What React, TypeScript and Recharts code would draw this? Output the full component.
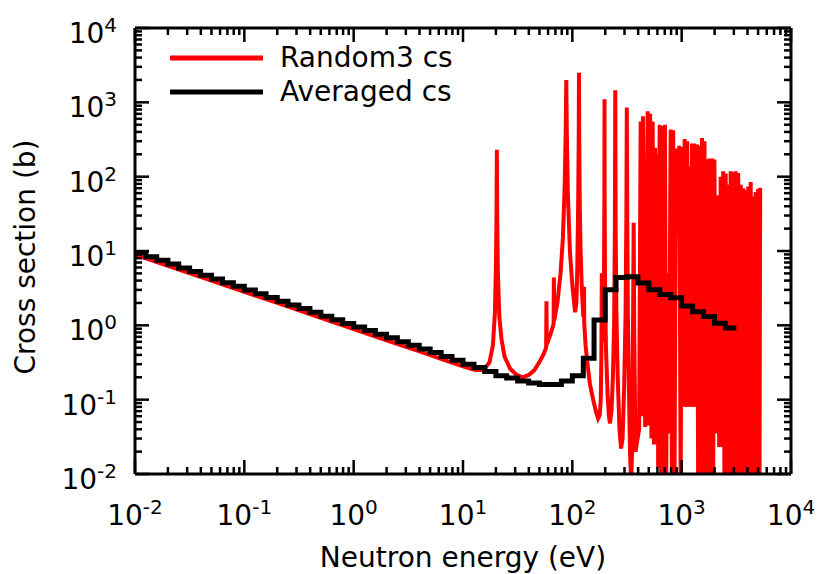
import React from 'react';
import { LineChart, Line, XAxis, YAxis, Legend } from 'recharts';

const FONT = '"DejaVu Sans", Verdana, sans-serif';

// decades shown as 10^n on both axes
const DECADES = [-2, -1, 0, 1, 2, 3, 4];
const MINOR_STEPS = [2, 3, 4, 5, 6, 7, 8, 9];
const SERIES_NAMES = ['Random3 cs', 'Averaged cs'];

// Random3 cs, energy (eV) / cross section (b)
const RANDOM3_SMOOTH: [number, number][] = [
  [0.01, 8.9], [0.02, 6.3], [0.05, 4.0], [0.1, 2.82], [0.2, 2.0], [0.5, 1.26],
  [1, 0.89], [2, 0.63], [4, 0.445], [7, 0.335], [10, 0.28], [13, 0.25], [15.5, 0.25],
];

const RANDOM3_RESOLVED: [number, number][] = [
  [17.5, 0.32], [18.8, 0.55], [19.6, 1.5], [20.0, 6], [20.25, 30], [20.4, 230], [20.55, 30],
  [20.85, 5], [21.5, 1.3], [22.5, 0.65], [24, 0.38], [27, 0.26], [31, 0.215], [35, 0.2],
  [40, 0.215], [45, 0.25], [50, 0.32], [55, 0.42], [57.6, 0.5], [58, 2.1], [58.4, 0.55],
  [63, 0.75], [67.4, 1.05], [67.8, 4.4], [68.2, 1.15], [73, 2.0], [78, 5], [82, 15],
  [85, 70], [87, 400], [88, 2000], [89, 400], [91, 60], [95, 10], [100, 3.5], [106, 1.5],
  [109, 2.0], [111, 6], [113, 40], [114.5, 400], [115, 2500], [115.5, 400], [117, 40],
  [119, 10], [122, 3.2], [126, 1.3], [127.6, 1.6], [128, 3.3], [128.4, 1.1], [132, 0.55],
  [137, 0.32], [145, 0.16], [155, 0.1], [165, 0.068], [172, 0.056], [178, 0.062], [182, 0.1],
  [184.5, 0.4], [186, 5], [187.5, 0.6], [192, 0.9], [195, 5], [196.5, 60], [197, 1100],
  [197.5, 60], [199, 4], [203, 0.5], [210, 0.12], [216, 0.06], [221, 0.048], [228, 0.07],
  [235, 0.2], [241, 1], [245, 20], [247, 1450], [249, 20], [253, 1.5], [260, 0.2],
  [270, 0.04], [279, 0.022], [288, 0.03], [298, 0.15], [307, 1.5], [312, 30], [315, 850],
  [318, 30], [322, 1.5], [328, 0.2], [337, 0.02], [345, 0.008], [352, 0.02], [359, 1],
  [364, 24], [368, 1], [378, 0.02],
];

const RANDOM3_DENSE: [number, number][] = [
  [408, 0.04], [421.6, 550], [433.3, 0.06], [442.5, 650], [463.7, 0.043], [488.8, 760],
  [502.3, 0.045], [515, 700], [529.3, 0.03], [542.9, 550], [557.9, 0.025], [572.2, 245],
  [588.1, 0.026], [599.4, 200], [609.6, 0.012], [629.1, 500], [649.3, 0.008], [665.9, 480],
  [684.4, 0.006], [703.4, 500], [721.4, 0.006], [739.9, 5], [765.3, 0.035], [793.2, 430],
  [815.3, 0.006], [836.1, 420], [859.3, 0.006], [886.9, 240], [919.2, 17], [952.7, 260],
  [979, 0.006], [1006, 250], [1032, 0.08], [1065, 320], [1095, 0.08], [1123, 300],
  [1152, 0.08], [1178, 137], [1209, 0.08], [1242, 280], [1274, 0.08], [1309, 280],
  [1343, 0.08], [1380, 270], [1416, 0.006], [1452, 260], [1492, 0.006], [1534, 330],
  [1573, 0.006], [1617, 300], [1659, 0.006], [1705, 170], [1748, 0.006], [1793, 175],
  [1842, 0.006], [1894, 175], [1942, 0.006], [1991, 170], [2069, 0.035], [2140, 56],
  [2203, 0.023], [2274, 100], [2337, 0.023], [2397, 118], [2463, 0.006], [2527, 110],
  [2597, 0.006], [2663, 78], [2737, 0.006], [2807, 118], [2885, 0.006], [2959, 115],
  [3042, 0.006], [3120, 118], [3206, 0.006], [3288, 112], [3379, 0.006], [3466, 78],
  [3563, 0.006], [3653, 70], [3755, 0.006], [3851, 66], [3958, 0.006], [4060, 74],
  [4172, 0.006], [4279, 85], [4398, 0.006], [4510, 54], [4635, 0.006], [4754, 62],
  [4887, 0.006], [5010, 68], [5150, 0.006], [5224, 71],
];

// Averaged cs: group edges (eV) and group value (b), last value repeated to close the step
const AVG_EDGES = [
  0.01, 0.0126, 0.0158, 0.02, 0.0251, 0.0316, 0.0398, 0.0501, 0.0631, 0.0794,
  0.1, 0.126, 0.158, 0.2, 0.251, 0.316, 0.398, 0.501, 0.631, 0.794,
  1, 1.26, 1.58, 2, 2.51, 3.16, 3.98, 5.01, 6.31, 7.94,
  10, 12.6, 15.8, 20, 25.1, 31.6, 39.8, 50.1, 63.1, 79.4,
  100, 126, 158, 200, 251, 316, 398, 501, 631, 794,
  1000, 1259, 1585, 1995, 2512, 3162,
];
const AVG_CS = [
  9.4, 8.4, 7.5, 6.7, 5.9, 5.3, 4.7, 4.2, 3.75, 3.35,
  2.98, 2.66, 2.37, 2.11, 1.88, 1.68, 1.5, 1.33, 1.19, 1.06,
  0.95, 0.85, 0.76, 0.68, 0.6, 0.54, 0.48, 0.43, 0.38, 0.34,
  0.3, 0.27, 0.24, 0.21, 0.195, 0.178, 0.167, 0.16, 0.16, 0.178,
  0.21, 0.36, 1.18, 3.0, 4.4, 4.5, 3.7, 3.0, 2.6, 2.35,
  1.82, 1.52, 1.31, 1.07, 0.92, 0.92,
];

const randomData = [...RANDOM3_SMOOTH, ...RANDOM3_RESOLVED, ...RANDOM3_DENSE].map(([e, cs]) => ({ e, cs }));
const avgData = AVG_EDGES.map((e, i) => ({ e, cs: AVG_CS[i] }));

const MAJOR_TICKS = DECADES.map((d) => Math.pow(10, d));
const LOG_TICKS = [
  ...MAJOR_TICKS,
  ...DECADES.slice(0, -1).flatMap((d) => MINOR_STEPS.map((m) => m * Math.pow(10, d))),
].sort((a, b) => a - b);
const DOMAIN: [number, number] = [0.01, 10000];

type Side = 'bottom' | 'top' | 'left' | 'right';

const LogTick = (props: any & { side: Side }) => {
  const { x = 0, y = 0, payload, side } = props;
  const v = payload ? payload.value : 1;
  const l = Math.log10(v);
  const major = Math.abs(l - Math.round(l)) < 1e-6;
  const len = major ? 14 : 7;
  const ln = { stroke: '#000', strokeWidth: 2.5 };
  const exp = Math.round(l);
  if (side === 'bottom') {
    return (
      <g>
        <line x1={x} x2={x} y1={y} y2={y - len} {...ln} />
        {major && (
          <text x={x} y={y + 51} textAnchor="middle" fontSize={28} fontFamily={FONT} fill="#000">
            10<tspan dy={-11} fontSize={20}>{exp}</tspan>
          </text>
        )}
      </g>
    );
  }
  if (side === 'top') return <line x1={x} x2={x} y1={y} y2={y + len} {...ln} />;
  if (side === 'right') return <line x1={x} x2={x - len} y1={y} y2={y} {...ln} />;
  return (
    <g>
      <line x1={x} x2={x + len} y1={y} y2={y} {...ln} />
      {major && (
        <text x={x - 18} y={y + 15} textAnchor="end" fontSize={28} fontFamily={FONT} fill="#000">
          10<tspan dy={-11} fontSize={20}>{exp}</tspan>
        </text>
      )}
    </g>
  );
};

const LegendBox = (props: any) => {
  const items = props.payload || [];
  // keep the plotting order, not alphabetical
  const ordered = SERIES_NAMES.map((n) => items.find((it: any) => it.value === n)).filter(Boolean);
  return (
    <svg width={320} height={90}>
      {ordered.map((it: any, i: number) => (
        <g key={it.value}>
          <line x1={10} x2={103} y1={28 + i * 34} y2={28 + i * 34} stroke={it.color} strokeWidth={5} />
          <text x={120} y={37 + i * 34} fontSize={28} fontFamily={FONT} fill="#000">{it.value}</text>
        </g>
      ))}
    </svg>
  );
};

const axisLine = { stroke: '#000', strokeWidth: 3 };

export default function App() {
  return (
    <div style={{ width: 819, height: 574, background: '#fff', position: 'relative' }}>
      <style>{'body{margin:0}'}</style>
      <LineChart width={819} height={574} margin={{ top: 27, right: 27, bottom: 0, left: 0 }}>
        <XAxis
          dataKey="e" type="number" scale="log" domain={DOMAIN} allowDataOverflow
          ticks={LOG_TICKS} interval={0} tickLine={false} tickSize={0} tickMargin={0}
          tick={(p: any) => <LogTick {...p} side="bottom" />} axisLine={axisLine} height={100}
          label={(p: any) => {
            const vb = p.viewBox || { x: 135, y: 474, width: 656 };
            return (
              <text x={vb.x + vb.width / 2} y={vb.y + 93} textAnchor="middle" fontSize={28} fontFamily={FONT} fill="#000">
                Neutron energy (eV)
              </text>
            );
          }}
        />
        <XAxis
          xAxisId="top" orientation="top" dataKey="e" type="number" scale="log" domain={DOMAIN} allowDataOverflow
          ticks={LOG_TICKS} interval={0} tickLine={false} tickSize={0} tickMargin={0}
          tick={(p: any) => <LogTick {...p} side="top" />} axisLine={axisLine} height={1}
        />
        <YAxis
          type="number" scale="log" domain={DOMAIN} allowDataOverflow
          ticks={LOG_TICKS} interval={0} tickLine={false} tickSize={0} tickMargin={0}
          tick={(p: any) => <LogTick {...p} side="left" />} axisLine={axisLine} width={135}
          label={(p: any) => {
            const vb = p.viewBox || { x: 0, y: 28, height: 446 };
            const cy = vb.y + vb.height / 2 + 6;
            return (
              <text x={35} y={cy} transform={`rotate(-90 35 ${cy})`} textAnchor="middle" fontSize={28} fontFamily={FONT} fill="#000">
                Cross section (b)
              </text>
            );
          }}
        />
        <YAxis
          yAxisId="right" orientation="right" type="number" scale="log" domain={DOMAIN} allowDataOverflow
          ticks={LOG_TICKS} interval={0} tickLine={false} tickSize={0} tickMargin={0}
          tick={(p: any) => <LogTick {...p} side="right" />} axisLine={axisLine} width={1}
        />
        <Legend
          layout="horizontal" verticalAlign="middle"
          wrapperStyle={{ left: 160, top: 30, width: 320, height: 90 }}
          content={(p: any) => <LegendBox {...p} />}
        />
        <Line
          data={randomData} dataKey="cs" name="Random3 cs" type="linear" stroke="#ff0000"
          strokeWidth={4} dot={false} activeDot={false} isAnimationActive={false}
        />
        <Line
          data={avgData} dataKey="cs" name="Averaged cs" type="stepAfter" stroke="#000000"
          strokeWidth={5} strokeLinejoin="miter" dot={false} activeDot={false} isAnimationActive={false}
        />
      </LineChart>
    </div>
  );
}
